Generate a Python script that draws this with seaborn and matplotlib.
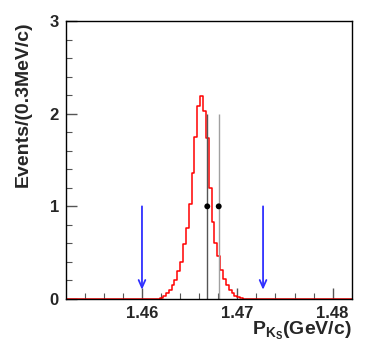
import numpy as np
import pandas as pd
import matplotlib
matplotlib.use("Agg")
import matplotlib.pyplot as plt
import seaborn as sns

# histogram binning: 100 bins of 0.3 MeV/c between 1.452 and 1.482 GeV/c
x_min, x_max, n_bins = 1.452, 1.482, 100

# signal MC shape (red), non-empty bins only
mc_first_bin = 33
mc_values = [0.01, 0.03, 0.06, 0.10, 0.15, 0.20, 0.30, 0.40, 0.59, 0.77,
             1.03, 1.36, 1.75, 2.08, 2.19, 2.03, 1.74, 1.20, 0.83, 0.60,
             0.46, 0.31, 0.22, 0.15, 0.10, 0.06, 0.03, 0.02, 0.01]

# data events
data_x = [1.46685, 1.46805]
data_y = [1.0, 1.0]
data_err = [1.0, 1.0]
err_colors = ["#555555", "#a0a0a0"]

# signal region cut
cut_x = [1.4600, 1.4727]
cut_top, cut_tip = 1.0, 0.1

sns.set_theme(style="white")
plt.rcParams["font.family"] = ["Liberation Sans", "DejaVu Sans"]
plt.rcParams["font.weight"] = "bold"
plt.rcParams["mathtext.fontset"] = "custom"
plt.rcParams["mathtext.rm"] = "Liberation Sans:bold"
plt.rcParams["mathtext.it"] = "Liberation Sans:bold"
plt.rcParams["mathtext.bf"] = "Liberation Sans:bold"

edges = np.linspace(x_min, x_max, n_bins + 1)
centers = 0.5 * (edges[:-1] + edges[1:])
mc = pd.DataFrame({
    "x": centers[mc_first_bin:mc_first_bin + len(mc_values)],
    "w": mc_values,
})

fig = plt.figure(figsize=(3.74, 3.63), dpi=100)
ax = fig.add_axes([0.1757, 0.1763, 0.9404 - 0.1757, 0.9421 - 0.1763])

sns.histplot(data=mc, x="x", weights="w", bins=list(edges), element="step",
             fill=False, color="red", linewidth=1.1, ax=ax)

ax.vlines(data_x, np.array(data_y) - np.array(data_err),
          np.array(data_y) + np.array(data_err), colors=err_colors, lw=1.0)
sns.scatterplot(x=data_x, y=data_y, color="black", s=18, edgecolor="none",
                ax=ax, zorder=5)

for cx in cut_x:
    ax.annotate("", xy=(cx, cut_tip), xytext=(cx, cut_top),
                arrowprops=dict(arrowstyle="->,head_length=0.45,head_width=0.2",
                                color="#2f2fff", lw=1.3, shrinkA=0, shrinkB=0))

ax.set_xlim(x_min, x_max)
ax.set_ylim(0, 3)
ax.set_xticks([1.46, 1.47, 1.48])
ax.set_xticklabels(["1.46", "1.47", "1.48"])
ax.set_xticks(np.arange(1.454, 1.4815, 0.002), minor=True)
ax.set_yticks([0, 1, 2, 3])
ax.set_yticks(np.arange(0, 3.01, 0.2), minor=True)
ax.tick_params(axis="both", which="both", direction="in", top=False,
               right=False, bottom=True, left=True, color="#555555")
ax.tick_params(axis="both", which="major", length=8, width=1.0,
               labelsize=12, pad=5)
ax.tick_params(axis="both", which="minor", length=4, width=0.8)
for lab in ax.get_xticklabels() + ax.get_yticklabels():
    lab.set_fontweight("bold")

for sp in ax.spines.values():
    sp.set_visible(True)
    sp.set_color("black")
    sp.set_linewidth(1.0)

ax.set_xlabel("")
ax.set_ylabel("")
fig.text(0.063, 0.9421, "Events/(0.3MeV/c)", rotation=90, ha="center",
         va="top", fontsize=14, fontweight="bold")
fig.text(0.9404, 0.077, r"P$_{\mathrm{K_S}}$(GeV/c)", ha="right",
         va="baseline", fontsize=14, fontweight="bold")

fig.savefig("out.png", dpi=100)
